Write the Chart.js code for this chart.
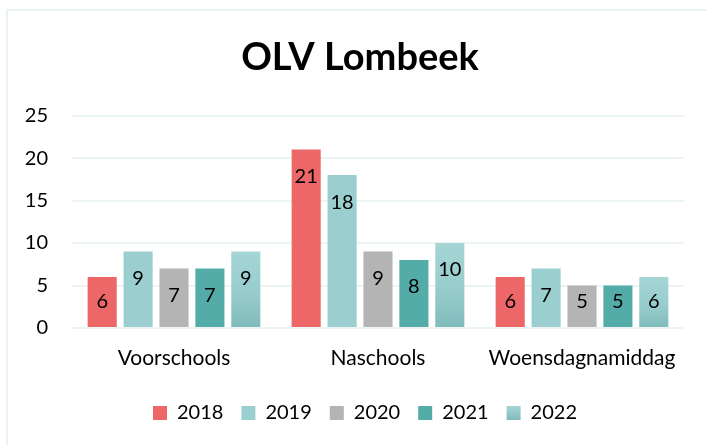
<!DOCTYPE html>
<html>
<head>
<meta charset="utf-8">
<script src="https://cdn.jsdelivr.net/npm/chart.js@4.4.1/dist/chart.umd.min.js"></script>
<style>
  html, body { margin: 0; padding: 0; background: #ffffff; }
  #wrap { position: relative; width: 706px; height: 445px; overflow: hidden; }
  #frame { position: absolute; left: 6px; top: 9px; width: 720px; height: 460px;
           border-left: 2px solid #EAF2F2; border-top: 2px solid #EAF2F2; }
  canvas { position: absolute; left: 0; top: 0; }
</style>
</head>
<body>
<div id="wrap">
  <div id="frame"></div>
  <canvas id="c" width="706" height="445"></canvas>
</div>
<script>
const categories = ['Voorschools', 'Naschools', 'Woensdagnamiddag'];
const seriesNames = ['2018', '2019', '2020', '2021', '2022'];
const values2018 = [6, 21, 6];
const values2019 = [9, 18, 7];
const values2020 = [7, 9, 5];
const values2021 = [7, 8, 5];
const values2022 = [9, 10, 6];
const yTicks = [0, 5, 10, 15, 20, 25];

const FONT = 'Lato';
const colors = ['#ED6668', '#9BCFCF', '#B4B4B4', '#54ACA9'];

function gradientFill(ctx) {
  const chart = ctx.chart;
  if (!chart.chartArea || ctx.type !== 'data') return '#9BCFCF';
  const y = chart.scales.y;
  const top = y.getPixelForValue(ctx.raw);
  const bot = y.getPixelForValue(0);
  const g = chart.ctx.createLinearGradient(0, top, 0, bot);
  g.addColorStop(0, '#A5D6D6');
  g.addColorStop(0.55, '#98CCCC');
  g.addColorStop(1, '#80BBBB');
  return g;
}

const dataLabels = {
  id: 'dataLabels',
  afterDatasetsDraw(chart) {
    const ctx = chart.ctx;
    ctx.save();
    ctx.font = '20px ' + FONT;
    ctx.fillStyle = '#000000';
    ctx.textAlign = 'center';
    ctx.textBaseline = 'middle';
    chart.data.datasets.forEach((ds, i) => {
      const meta = chart.getDatasetMeta(i);
      meta.data.forEach((el, j) => {
        const top = el.y, bottom = el.base;
        const ly = Math.min(top + 27, bottom - 25);
        ctx.fillText(String(ds.data[j]), el.x, ly);
      });
    });
    ctx.restore();
  }
};

const boxShift = {
  id: 'boxShift',
  afterLayout(chart) {
    if (chart.legend) { chart.legend.left += 23; chart.legend.right += 23; }
    if (chart.titleBlock) { chart.titleBlock.left += 18; chart.titleBlock.right += 18; }
  }
};

const datasets = [values2018, values2019, values2020, values2021, values2022].map((vals, i) => ({
  label: seriesNames[i],
  data: vals,
  backgroundColor: i < 4 ? colors[i] : gradientFill,
  borderWidth: 0,
  categoryPercentage: 0.88,
  barPercentage: 0.81
}));

new Chart(document.getElementById('c'), {
  type: 'bar',
  data: { labels: categories, datasets },
  plugins: [dataLabels, boxShift],
  options: {
    responsive: false,
    animation: false,
    layout: { padding: { left: 0, right: 22, top: 0, bottom: 12 } },
    plugins: {
      tooltip: { enabled: false },
      title: {
        display: true,
        text: 'OLV Lombeek',
        color: '#000000',
        font: { family: FONT, size: 38, weight: 'bold' },
        padding: { top: 35, bottom: 35 }
      },
      legend: {
        position: 'bottom',
        labels: {
          color: '#000000',
          font: { family: FONT, size: 20 },
          boxWidth: 14,
          boxHeight: 14,
          padding: 18,
          generateLabels(chart) {
            const items = Chart.defaults.plugins.legend.labels.generateLabels(chart);
            items.forEach((it, i) => {
              if (i === 4) {
                const g = chart.ctx.createLinearGradient(0, 406, 0, 420);
                g.addColorStop(0, '#A5D6D6');
                g.addColorStop(1, '#80BBBB');
                it.fillStyle = g;
              }
              it.lineWidth = 0;
              it.strokeStyle = 'rgba(0,0,0,0)';
            });
            return items;
          }
        }
      }
    },
    scales: {
      x: {
        grid: { display: false, drawTicks: false },
        border: { display: false },
        ticks: { color: '#000000', font: { family: FONT, size: 21 }, padding: 18, maxRotation: 0 },
        afterFit(scale) { scale.height = 57; }
      },
      y: {
        min: 0, max: 25,
        afterBuildTicks(scale) { scale.ticks = yTicks.map(v => ({ value: v })); },
        grid: { color: '#EDF4F4', lineWidth: 2, drawTicks: false },
        border: { display: false },
        ticks: { color: '#000000', font: { family: FONT, size: 20 }, padding: 24 },
        afterFit(scale) { scale.width = 72; }
      }
    }
  }
});
</script>
</body>
</html>
